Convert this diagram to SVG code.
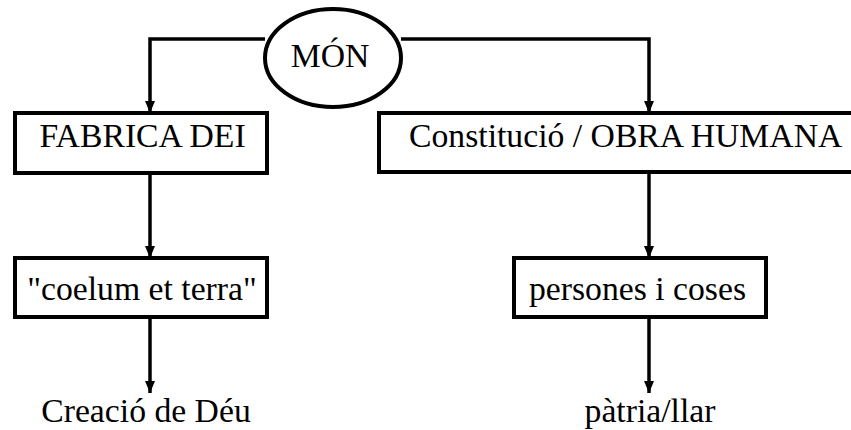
<svg xmlns="http://www.w3.org/2000/svg" width="851" height="430" viewBox="0 0 851 430">
  <style>
    .box { fill: #fff; stroke: #000; stroke-width: 4; }
    .edge { fill: none; stroke: #000; stroke-width: 3.5; }
    .lbl { font-family: "Liberation Serif", "Times New Roman", serif; font-size: 33.7px; fill: #000; }
  </style>
  <defs>
    <marker id="arrow" viewBox="0 0 12 10" refX="12" refY="5" markerWidth="12" markerHeight="10" markerUnits="userSpaceOnUse" orient="auto">
      <path d="M0,0 L12,5 L0,10 Z" fill="#000"/>
    </marker>
  </defs>

  <rect width="851" height="430" fill="#fff"/>

  <g id="connectors">
    <path class="edge" d="M265,39 H150 V113" marker-end="url(#arrow)"/>
    <path class="edge" d="M401,39 H649 V113" marker-end="url(#arrow)"/>
    <path class="edge" d="M150,173 V258" marker-end="url(#arrow)"/>
    <path class="edge" d="M649,172 V258" marker-end="url(#arrow)"/>
    <path class="edge" d="M150,317 V393" marker-end="url(#arrow)"/>
    <path class="edge" d="M649,317 V393" marker-end="url(#arrow)"/>
  </g>

  <g id="mon">
    <ellipse class="box" cx="333" cy="58" rx="68" ry="49"/>
    <text class="lbl" x="330" y="67" text-anchor="middle">MÓN</text>
  </g>

  <g id="fabrica-dei">
    <rect class="box" x="15" y="113" width="252" height="60"/>
    <text class="lbl" x="142.5" y="147" text-anchor="middle">FABRICA DEI</text>
  </g>

  <g id="obra-humana">
    <rect class="box" x="379" y="113" width="480" height="59"/>
    <text class="lbl" x="409" y="147">Constitució / OBRA HUMANA</text>
  </g>

  <g id="coelum">
    <rect class="box" x="15" y="258" width="252" height="59"/>
    <text class="lbl" x="142" y="300" text-anchor="middle">"coelum et terra"</text>
  </g>

  <g id="persones">
    <rect class="box" x="514" y="258" width="252" height="59"/>
    <text class="lbl" x="637.5" y="300" text-anchor="middle">persones i coses</text>
  </g>

  <g id="creacio">
    <text class="lbl" x="146" y="422" text-anchor="middle">Creació de Déu</text>
  </g>

  <g id="patria">
    <text class="lbl" x="650" y="422" text-anchor="middle">pàtria/llar</text>
  </g>
</svg>
